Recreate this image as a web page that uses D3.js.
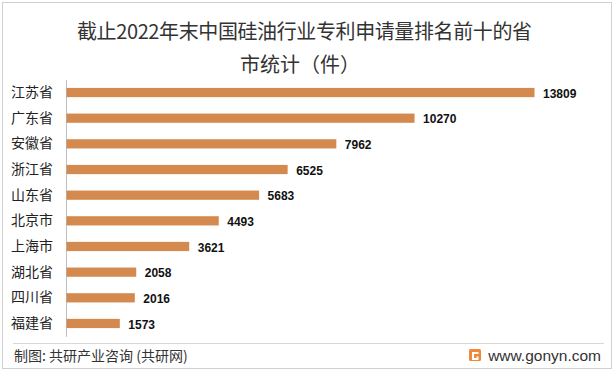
<!DOCTYPE html>
<html>
<head>
<meta charset="utf-8">
<script src="https://cdn.jsdelivr.net/npm/d3@7"></script>
<style>
  body { margin: 0; background: #fff; }
  svg text { font-family: "Noto Sans CJK SC", "Noto Sans", sans-serif; }
</style>
</head>
<body>
<div id="vis"></div>
<script>
const width = 615;
const height = 372;

const provinces = ["江苏省", "广东省", "安徽省", "浙江省", "山东省", "北京市", "上海市", "湖北省", "四川省", "福建省"];
const patents = [13809, 10270, 7962, 6525, 5683, 4493, 3621, 2058, 2016, 1573];
const titleLines = ["截止2022年末中国硅油行业专利申请量排名前十的省", "市统计（件）"];

const data = provinces.map((p, i) => ({province: p, value: patents[i]}));

const svg = d3.select('#vis')
    .append('svg')
    .attr('width', width)
    .attr('height', height);

// outer frame
svg.append("rect")
    .attr("x", 2.5).attr("y", 2.5)
    .attr("width", 609).attr("height", 366)
    .attr("fill", "none")
    .attr("stroke", "#d0d0d0");

// title, two lines
svg.append("text")
    .attr("class", "title")
    .attr("x", 77)
    .attr("y", 39)
    .attr("font-size", 20)
    .attr("fill", "#333")
    .attr("textLength", 455)
    .attr("lengthAdjust", "spacing")
    .text(titleLines[0]);

svg.append("text")
    .attr("class", "title")
    .attr("x", 300)
    .attr("y", 72)
    .attr("text-anchor", "middle")
    .attr("font-size", 20)
    .attr("fill", "#333")
    .text(titleLines[1]);

const xScale = d3.scaleLinear()
    .domain([0, 13809])
    .range([66, 534]);

const yScale = d3.scaleBand()
    .domain(provinces)
    .range([79.7, 336.3])
    .paddingInner(0.64)
    .paddingOuter(0.32);

const yAxis = svg.append("g")
    .attr("transform", "translate(66,0)")
    .call(d3.axisLeft(yScale).tickSize(0).tickPadding(13));

yAxis.select(".domain").attr("stroke", "#bfbfbf");
yAxis.selectAll("text")
    .attr("font-size", 14)
    .attr("fill", "#222")
    .style("font-family", '"Noto Sans CJK SC", sans-serif');

svg.selectAll(".bar")
    .data(data)
    .join("rect")
    .attr("class", "bar")
    .attr("x", xScale(0) + 0.5)
    .attr("y", d => yScale(d.province))
    .attr("width", d => xScale(d.value) - xScale(0))
    .attr("height", yScale.bandwidth())
    .attr("fill", "#d48a4e");

svg.selectAll(".val")
    .data(data)
    .join("text")
    .attr("class", "val")
    .attr("x", d => xScale(d.value) + 9)
    .attr("y", d => yScale(d.province) + yScale.bandwidth() / 2)
    .attr("dy", "0.42em")
    .attr("font-size", 12)
    .attr("font-weight", "bold")
    .attr("fill", "#111")
    .style("font-family", '"Liberation Sans", Arial, sans-serif')
    .text(d => d.value);

// footer
svg.append("line")
    .attr("x1", 13).attr("x2", 604)
    .attr("y1", 343.5).attr("y2", 343.5)
    .attr("stroke", "#d8d8d8");

svg.append("text")
    .attr("x", 14)
    .attr("y", 361)
    .attr("font-size", 14)
    .attr("fill", "#333")
    .text("制图: 共研产业咨询 (共研网)");

svg.append("rect")
    .attr("x", 469).attr("y", 349)
    .attr("width", 12).attr("height", 12)
    .attr("rx", 1.5)
    .attr("fill", "#f0883a");
svg.append("path")
    .attr("d", "M472,352 h6.5 v2 h-4.5 v4 h2.5 v-1.5 h2 v3.5 h-6.5 z")
    .attr("fill", "#fff");

svg.append("text")
    .attr("x", 601)
    .attr("y", 361)
    .attr("text-anchor", "end")
    .attr("font-size", 15.5)
    .attr("fill", "#333")
    .style("font-family", '"Liberation Sans", Arial, sans-serif')
    .text("www.gonyn.com");
</script>
</body>
</html>
